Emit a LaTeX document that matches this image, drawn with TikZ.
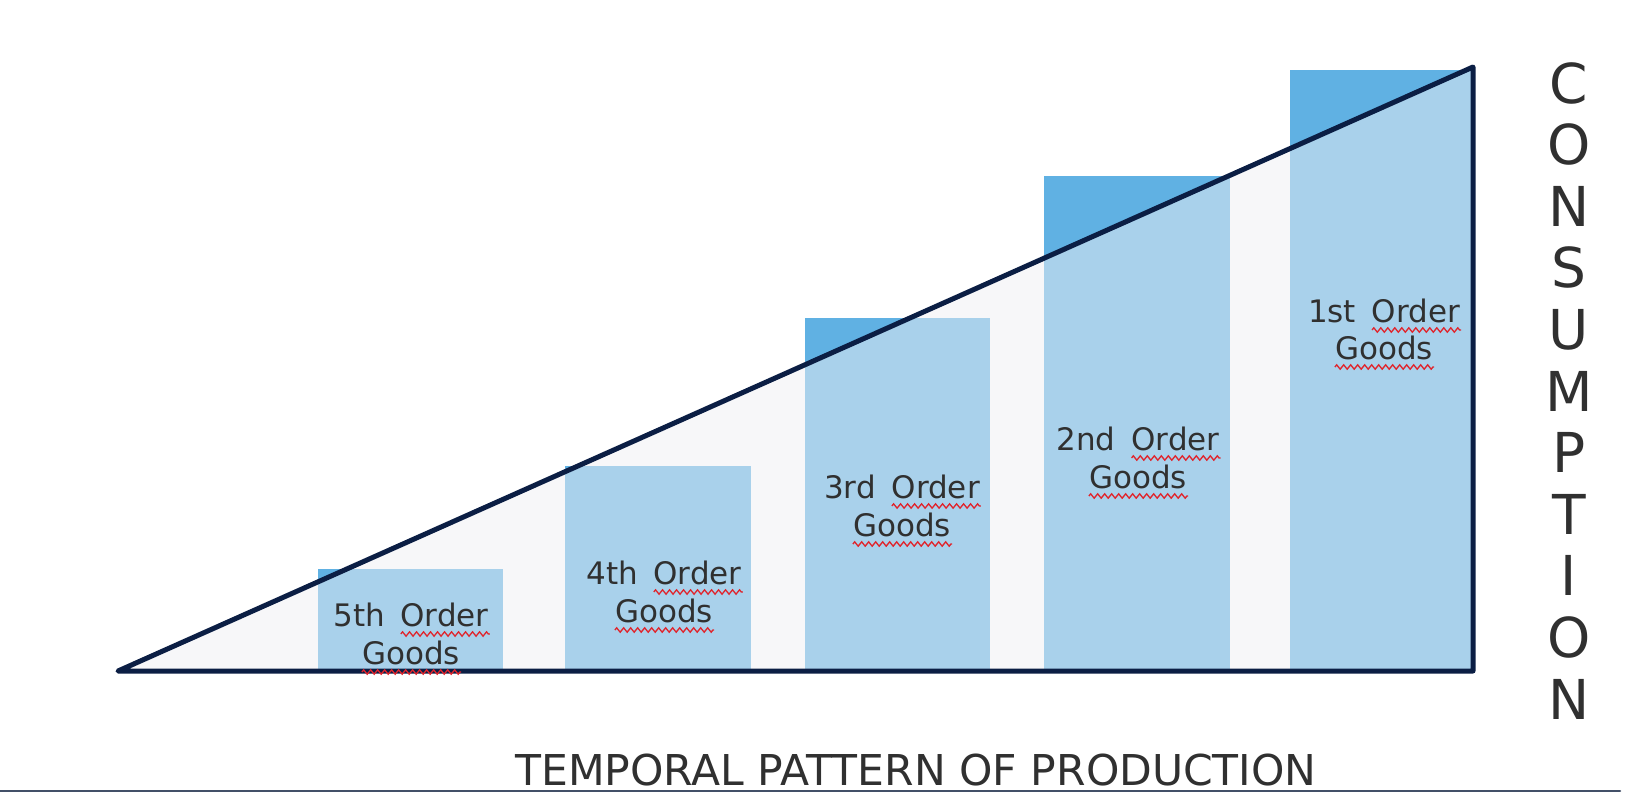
\documentclass[tikz,border=0pt]{standalone}
\usepackage{fontspec}
\setmainfont{DejaVu Sans}
\newfontfamily\labelfont[WordSpace=1.6]{DejaVu Sans}
\usetikzlibrary{calc,decorations.pathmorphing}
\definecolor{navy}{HTML}{0B1E44}
\definecolor{boxdark}{HTML}{60B1E3}
\definecolor{boxlight}{HTML}{A9D1EB}
\definecolor{tri}{HTML}{F7F7F9}
\definecolor{txt}{HTML}{303030}
\definecolor{sepline}{HTML}{435068}
\definecolor{squig}{HTML}{E0242C}
\newlength\wOrder
\begin{document}
\settowidth{\wOrder}{\labelfont\fontsize{31}{37}\selectfont Order}%
\begin{tikzpicture}[x=1pt,y=-1pt,
  gbox/.style={fill=boxdark, draw=none, inner sep=0, anchor=south west},
  lbl/.style={anchor=base, inner sep=0, text=txt, font=\labelfont\fontsize{31}{37}\selectfont},
  vlet/.style={anchor=base, inner sep=0, text=txt, font=\fontsize{55}{60}\selectfont},
  sq/.style={draw=squig, line width=1.3pt, decorate,
    decoration={zigzag, segment length=7pt, amplitude=2.2pt}},
  edge/.style={draw=navy, line width=5pt, line join=round, line cap=round}]
\useasboundingbox (0,0) rectangle (1636,792);
\fill[white] (0,0) rectangle (1636,792);
% triangle corners
\coordinate (L) at (118,671);
\coordinate (A) at (1473,67);
\coordinate (R) at (1473,671);
\fill[tri] (L) -- (A) -- (R) -- cycle;
% boxes (darker part shows above the slope)
\node[gbox, minimum width=185pt, minimum height=102pt] (b5) at (318,671) {};
\node[gbox, minimum width=186pt, minimum height=205pt] (b4) at (565,671) {};
\node[gbox, minimum width=185pt, minimum height=353pt] (b3) at (805,671) {};
\node[gbox, minimum width=186pt, minimum height=495pt] (b2) at (1044,671) {};
\node[gbox, minimum width=183pt, minimum height=601pt] (b1) at (1290,671) {};
\begin{scope}
  \clip (L) -- (A) -- (R) -- cycle;
  \foreach \b in {b1,b2,b3,b4,b5}
    \fill[boxlight] (\b.south west) rectangle (\b.north east);
\end{scope}
\draw[edge] (L) -- (A) -- (R) -- cycle;
% labels
\node[lbl] (t5a) at (411,626) {5th Order};
\node[lbl] (t5b) at (411,664) {Goods};
\node[lbl] (t4a) at (664,584) {4th Order};
\node[lbl] (t4b) at (664,622) {Goods};
\node[lbl] (t3a) at (902,498) {3rd Order};
\node[lbl] (t3b) at (902,536) {Goods};
\node[lbl] (t2a) at (1138,450) {2nd Order};
\node[lbl] (t2b) at (1138,488) {Goods};
\node[lbl] (t1a) at (1384,322) {1st Order};
\node[lbl] (t1b) at (1384,359) {Goods};
\foreach \t in {t1,t2,t3,t4,t5}{
  \draw[sq] ($(\t a.base east)+(-\wOrder,-8pt)$) -- ($(\t a.base east)+(1pt,-8pt)$);
  \draw[sq] ($(\t b.base west)+(0pt,-8pt)$) -- ($(\t b.base east)+(1pt,-8pt)$);
}
% vertical CONSUMPTION
\foreach \ch [count=\i from 0] in {C,O,N,S,U,M,P,T,I,O,N}
  \node[vlet] (c\i) at (1569,{103+61.6*\i}) {\ch};
% title
\node[anchor=base, inner sep=0, text=txt, font=\fontsize{42.5}{48}\selectfont] (title) at (916,785) {TEMPORAL PATTERN OF PRODUCTION};
% bottom rule
\coordinate (s1) at (0,791);
\coordinate (s2) at (1620,791);
\draw[sepline, line width=2.5pt, line cap=round] (s1) -- (s2);
\end{tikzpicture}
\end{document}
